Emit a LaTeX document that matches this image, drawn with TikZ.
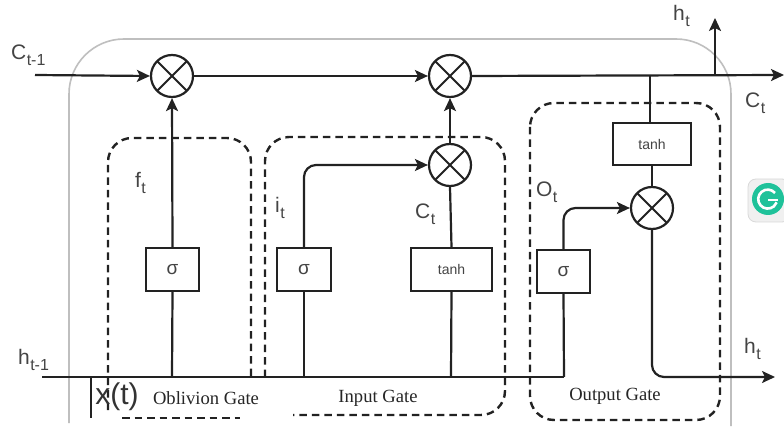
\documentclass[tikz,border=0pt]{standalone}
\usepackage{fontspec}
\setmainfont{Liberation Sans}
\newfontfamily\gatefont{Liberation Serif}
\usetikzlibrary{arrows.meta}
\definecolor{ink}{HTML}{222222}
\definecolor{txt}{HTML}{444444}
\definecolor{badge}{HTML}{1FC29A}
\newcommand{\subs}[2]{#1\kern0.02em\raisebox{-0.3em}{\fontsize{16}{16}\selectfont #2}}
\tikzset{
  lin/.style={draw=ink,line width=2.2pt},
  arr/.style={lin,-{Stealth[length=13pt,width=12pt,inset=3pt]}},
  opcircle/.style={circle,draw=ink,line width=2.2pt,minimum size=42pt,inner sep=0pt,
    path picture={\draw[ink,line width=1.9pt]
      (path picture bounding box.north west)--(path picture bounding box.south east)
      (path picture bounding box.north east)--(path picture bounding box.south west);}},
  fnbox/.style={draw=ink,line width=2.2pt,fill=white,inner sep=0pt,text=txt,font=\fontsize{14}{14}\selectfont},
  dashbox/.style={draw=ink,line width=2.4pt,dash pattern=on 7.5pt off 5pt,rounded corners=24pt},
  lab/.style={text=txt,inner sep=0pt,font=\fontsize{21}{22}\selectfont},
  gate/.style={text=black!85,inner sep=0pt,font=\gatefont\fontsize{18.6}{20}\selectfont}
}
\begin{document}
\begin{tikzpicture}[x=1pt,y=-1pt]
\useasboundingbox (0,0) rectangle (784,430);
\fill[white] (0,0) rectangle (784,430);
% outer cell
\draw[black!25,line width=1.6pt,rounded corners=55pt] (69,423) -- (69,39) -- (731,39) -- (731,426);
% dashed gates
\draw[dashbox] (108,410) -- (108,138) -- (251,138) -- (251,377);
\draw[dashbox] (122,418) -- (240,418);
\draw[dashbox] (265,377) -- (265,137) -- (505,137) -- (505,415) -- (293,415);
\draw[dashbox] (530,103) rectangle (720,420);
% nodes
\node[opcircle] (m1) at (172,76) {};
\node[opcircle] (m2) at (450,76) {};
\node[opcircle] (m3) at (450,165) {};
\node[opcircle] (m4) at (652,208) {};
\node[fnbox,minimum width=53pt,minimum height=43pt,font=\fontsize{19}{19}\selectfont] (s1) at (172.5,269.5) {σ};
\node[fnbox,minimum width=54pt,minimum height=43pt,font=\fontsize{19}{19}\selectfont] (s2) at (304,269.5) {σ};
\node[fnbox,minimum width=81pt,minimum height=43pt] (t1) at (451.5,269.5) {tanh};
\node[fnbox,minimum width=53pt,minimum height=43pt,font=\fontsize{19}{19}\selectfont] (s3) at (563.5,271.5) {σ};
\node[fnbox,minimum width=78pt,minimum height=42pt] (t2) at (652,144) {tanh};
% line coordinates
\coordinate (cin) at (35,75);
\coordinate (cout) at (784,75);
\coordinate (hin) at (42,377);
\coordinate (hout) at (775,377);
\coordinate (tapf) at (172,377);
\coordinate (tapi) at (304,377);
\coordinate (tapc) at (451,377);
\coordinate (tapo) at (564,377);
\coordinate (tapt) at (650,75);
\coordinate (tapu) at (715,75);
\coordinate (upend) at (715,18);
\coordinate (xt) at (91,377);
\coordinate (xe) at (91,418);
% connectors
\draw[arr] (cin) -- (m1.west);
\draw[arr] (m1.east) -- (m2.west);
\draw[arr] (m2.east) -- (cout);
\draw[lin] (hin) -- (tapo);
\draw[lin] (xt) -- (xe);
\draw[lin] (tapf) -- (s1.south);
\draw[arr] (s1.north) -- (m1.south);
\draw[lin] (tapi) -- (s2.south);
\draw[arr,rounded corners=12pt] (s2.north) |- (m3.west);
\draw[lin] (tapc) -- (t1.south);
\draw[lin] (t1.north) -- (m3.south);
\draw[arr] (m3.north) -- (m2.south);
\draw[lin] (tapo) -- (s3.south);
\draw[arr,rounded corners=12pt] (s3.north) |- (m4.west);
\draw[lin] (t2.south) -- (m4.north);
\draw[lin] (tapt) -- (tapt|-t2.north);
\draw[arr,rounded corners=12pt] (m4.south) |- (hout);
\draw[arr] (tapu) -- (upend);
% labels
\node[lab,anchor=west] at (11,55) {\subs{C}{t-1}};
\node[lab,anchor=west] at (18,360) {\subs{h}{t-1}};
\node[lab,anchor=west] at (673,16) {\subs{h}{t}};
\node[lab,anchor=west] at (745,103) {\subs{C}{t}};
\node[lab,anchor=west] at (744,349) {\subs{h}{t}};
\node[lab,anchor=west] at (135,183) {\subs{f}{t}};
\node[lab,anchor=west] at (275,208) {\subs{i}{t}};
\node[lab,anchor=west] at (415,214) {\subs{C}{t}};
\node[lab,anchor=west] at (536,192) {\subs{O}{t}};
\node[text=black!80,inner sep=0pt,font=\fontsize{30}{32}\selectfont] at (117,397) {x(t)};
\node[gate] at (206,398) {Oblivion Gate};
\node[gate] at (378,398) {Input Gate};
\node[gate] at (615,396) {Output Gate};
% badge
\fill[black!6,draw=black!15,line width=.8pt,rounded corners=8pt] (748,179) rectangle (790,222);
\fill[badge] (768,199) circle (16pt);
\draw[white,line width=2.6pt] (775,193) arc (40:340:9.5pt);
\draw[white,line width=2.6pt] (768,200) -- (778,200);
\end{tikzpicture}
\end{document}
